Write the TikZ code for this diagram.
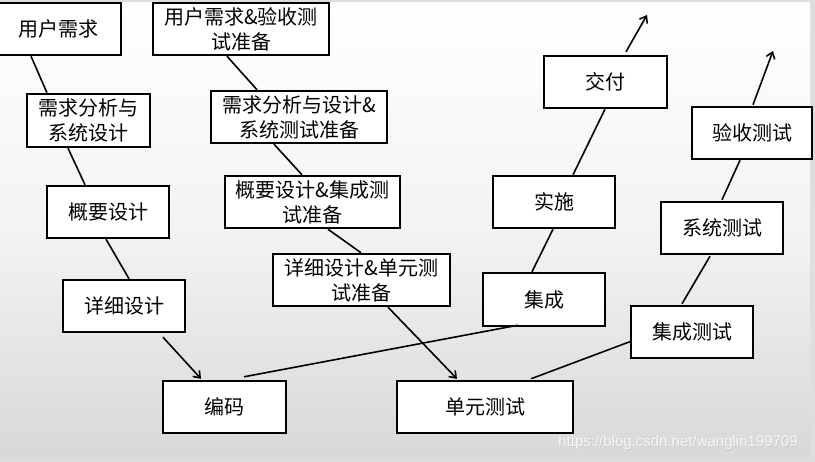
\documentclass[tikz,border=0pt]{standalone}
\usepackage{fontspec}
\newfontfamily\cjk{Noto Sans CJK SC}
\newfontfamily\wmfont{Liberation Sans}
\usetikzlibrary{arrows.meta}
\definecolor{edgegray}{RGB}{222,222,222}
\definecolor{bottomgray}{RGB}{216,216,216}
\tikzset{
  box/.style={draw=black, fill=white, line width=2.4pt, inner sep=0pt, align=center,
    font=\cjk\fontsize{20}{25}\selectfont},
  link/.style={draw=black, line width=1.6pt},
  arrowlink/.style={link, -{Straight Barb[length=6pt,width=9pt,line width=1.6pt]}},
}
\newcommand{\boxat}[6]{%
  \node[box, minimum width={#4-#2}, minimum height={#5-#3}] (#1) at ({(#2+#4)/2},{(#3+#5)/2}) {#6};}
\begin{document}
\begin{tikzpicture}[x=1pt,y=-1pt]
\useasboundingbox (0,0) rectangle (815,462);
\clip (0,0) rectangle (815,462);
\fill[edgegray] (0,0) rectangle (815,462);
\shade[top color=white, bottom color=bottomgray, middle color={rgb,255:red,243;green,243;blue,243}] (0,3) rectangle (810,459);
% left column
\boxat{A}{-3}{3}{121}{55}{用户需求}
\boxat{B}{27}{94}{150}{147}{需求分析与\\系统设计}
\boxat{C}{47}{186}{169}{238}{概要设计}
\boxat{D}{63}{280}{185}{332}{详细设计}
\boxat{E}{163}{381}{286}{433}{编码}
% middle column
\boxat{F}{153}{3}{329}{55}{用户需求\&验收测\\试准备}
\boxat{G}{211}{91}{387}{143}{需求分析与设计\&\\系统测试准备}
\boxat{H}{225}{176}{400}{228}{概要设计\&集成测\\试准备}
\boxat{I}{273}{254}{450}{306}{详细设计\&单元测\\试准备}
\boxat{J}{397}{381}{573}{433}{单元测试}
% right columns
\boxat{K}{483}{273}{605}{326}{集成}
\boxat{L}{493}{176}{615}{228}{实施}
\boxat{M}{544}{56}{667}{108}{交付}
\boxat{N}{631}{306}{753}{358}{集成测试}
\boxat{O}{661}{202}{783}{254}{系统测试}
\boxat{P}{692}{107}{812}{159}{验收测试}
\coordinate (Mout) at (647,15);
\coordinate (Pout) at (773,51);
% connectors
\draw[link] ([xshift=-28pt]A.south) -- ([xshift=-41.5pt]B.north);
\draw[link] ([xshift=-20.5pt]B.south) -- ([xshift=-23pt]C.north);
\draw[link] ([xshift=-2pt]C.south) -- ([xshift=5pt]D.north);
\draw[arrowlink] ([xshift=39pt,yshift=-4pt]D.south) -- ([xshift=-23.5pt,yshift=1pt]E.north);
\draw[link] ([xshift=-14pt]F.south) -- ([xshift=-42pt]G.north);
\draw[link] ([xshift=-25pt]G.south) -- ([xshift=-10.5pt]H.north);
\draw[link] ([xshift=15.5pt]H.south) -- ([xshift=-0.5pt]I.north);
\draw[arrowlink] ([xshift=26.5pt]I.south) -- ([xshift=-28pt,yshift=1pt]J.north);
\draw[link] ([xshift=19.5pt,yshift=3pt]E.north) -- ([xshift=-26pt,yshift=2pt]K.south);
\draw[link] ([xshift=-12pt]K.north) -- ([xshift=-1pt]L.south);
\draw[link] ([xshift=19pt]L.north) -- ([xshift=-0.5pt]M.south);
\draw[arrowlink] ([xshift=20.5pt,yshift=3pt]M.north) -- (Mout);
\draw[link] ([xshift=46pt,yshift=1pt]J.north) -- ([xshift=2pt,yshift=-9pt]N.west);
\draw[link] ([xshift=-10pt,yshift=1pt]N.north) -- ([xshift=-12pt,yshift=-1pt]O.south);
\draw[link] ([yshift=1pt]O.north) -- ([xshift=-12pt]P.south);
\draw[arrowlink] ([xshift=1pt,yshift=1pt]P.north) -- (Pout);
% watermark
\node[font=\wmfont\fontsize{15}{15}\selectfont, text={rgb,255:red,200;green,200;blue,200}, inner sep=0pt] (wms) at (678.7,443.7) {https://blog.csdn.net/wanglin199709};
\node[font=\wmfont\fontsize{15}{15}\selectfont, text={rgb,255:red,248;green,248;blue,248}, inner sep=0pt] (wm) at (678,443) {https://blog.csdn.net/wanglin199709};
\end{tikzpicture}
\end{document}
